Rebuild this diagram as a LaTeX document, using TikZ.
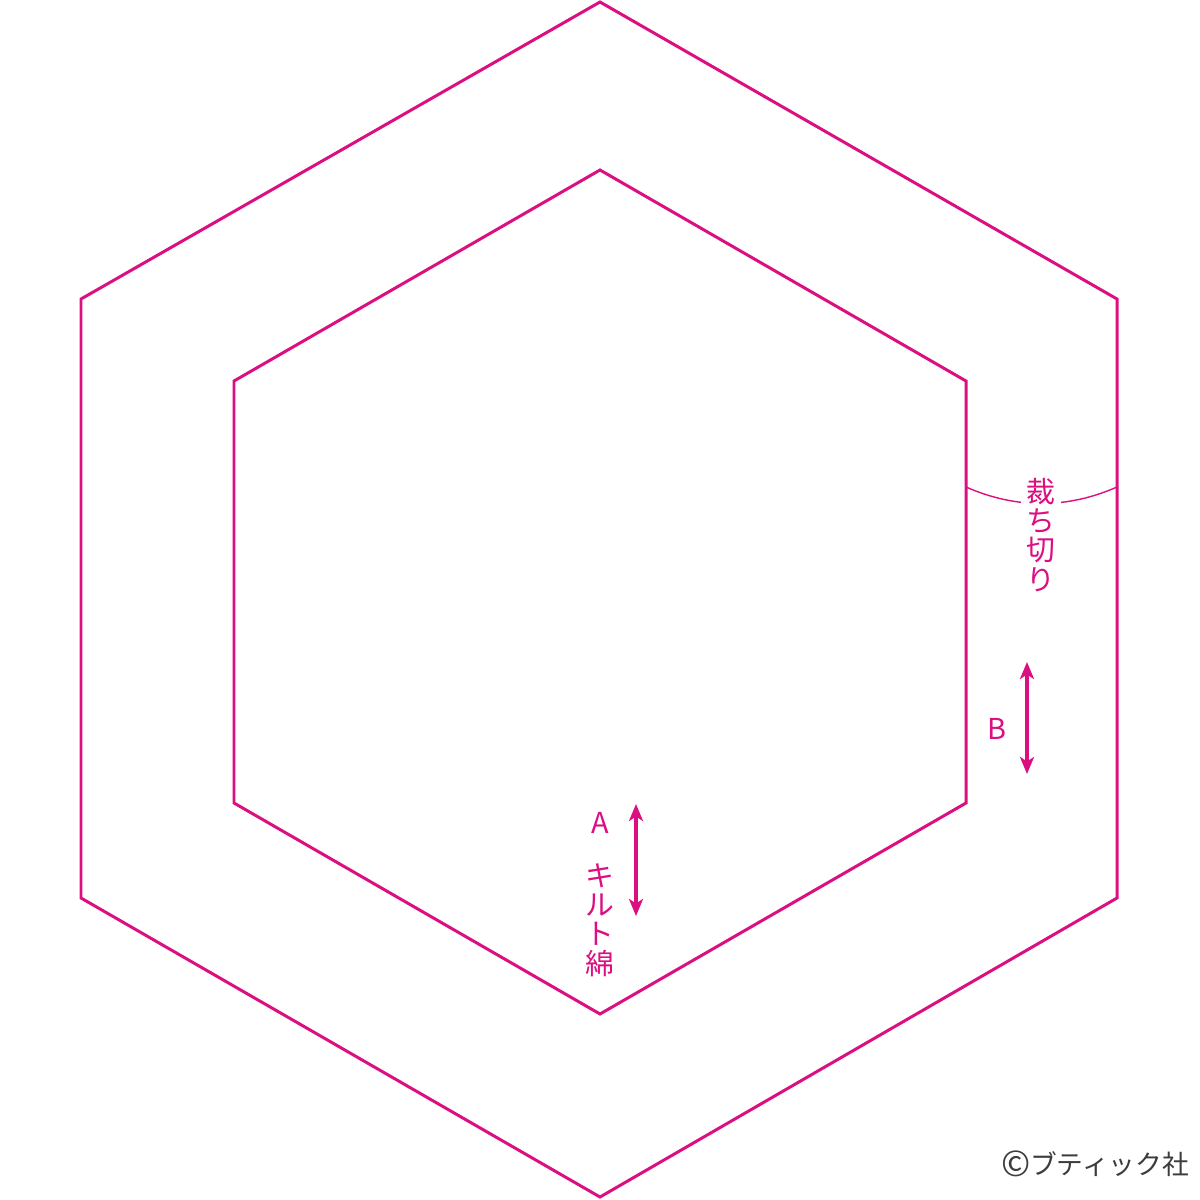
\documentclass[tikz,border=0pt]{standalone}
\usepackage{fontspec}
\setmainfont{Noto Sans CJK JP}
\usetikzlibrary{arrows.meta}
\definecolor{quiltpink}{HTML}{DC0F80}
\definecolor{creditgray}{HTML}{3C3C3C}
\begin{document}
\begin{tikzpicture}[x=0.01cm, y=-0.01cm,
    hexline/.style = {draw=quiltpink, line width=0.85pt, line join=miter},
    grainarrow/.style = {draw=quiltpink, fill=quiltpink, line width=0.9pt,
      {Stealth[length=1.7mm,width=1.4mm,inset=0.45mm]}-{Stealth[length=1.7mm,width=1.4mm,inset=0.45mm]}},
    every node/.style = {text=quiltpink, inner sep=0pt, align=center,
      font=\fontsize{8.2pt}{8.3pt}\selectfont}]
  \useasboundingbox (0,0) rectangle (1200,1200);
  % outer hexagon (cut line) and inner hexagon (batting)
  \draw[hexline] (600,2) -- (1117,299) -- (1117,898) -- (600,1197)
    -- (81,898) -- (81,299) -- cycle;
  \draw[hexline] (600,170) -- (966,381) -- (966,803) -- (600,1014)
    -- (234,803) -- (234,381) -- cycle;
  % seam allowance mark
  \draw[quiltpink, line width=0.4pt] (966,487) .. controls (1016,509) and (1067,509) .. (1117,487);
  \node[fill=white, inner xsep=1.6pt, inner ysep=1pt] (cutlabel) at (1041,535) {裁\\ち\\切\\り};
  % grain arrows
  \coordinate (btop) at (1027,662);
  \coordinate (bbot) at (1027,774);
  \draw[grainarrow] (btop) -- (bbot);
  \node (blabel) at (997,729) {B};
  \coordinate (atop) at (636,804);
  \coordinate (abot) at (636,916);
  \draw[grainarrow] (atop) -- (abot);
  \node (alabel) at (600,823) {A};
  \node (battlabel) at (600,920) {キ\\ル\\ト\\綿};
  % credit
  \node[text=creditgray, font=\fontsize{7.6pt}{8pt}\selectfont] (credit) at (1095,1164)
    {{\fontsize{10pt}{10pt}\selectfont\raisebox{-0.6pt}{©}}ブティック社};
\end{tikzpicture}
\end{document}
